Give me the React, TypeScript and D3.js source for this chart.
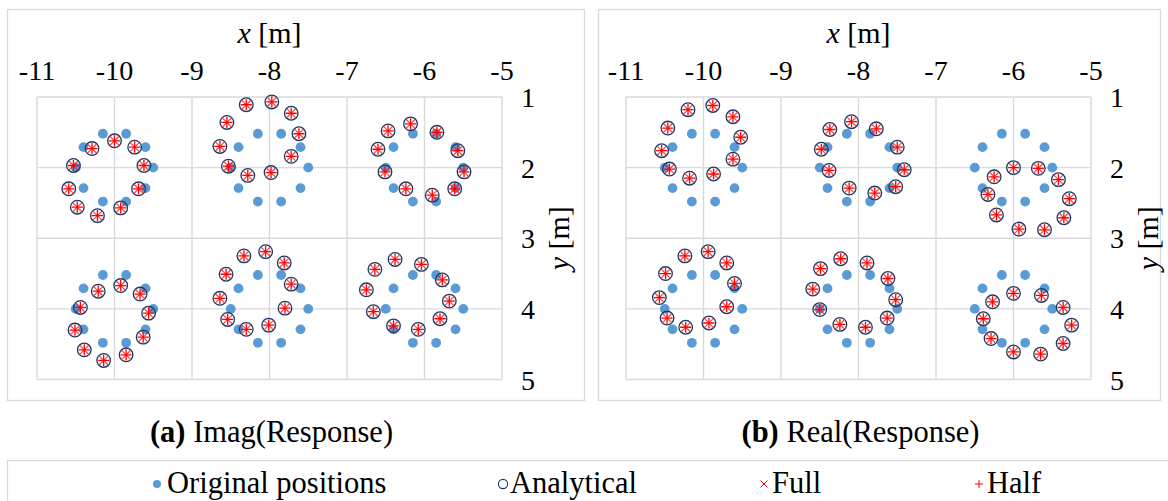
import React from 'react';
import * as d3 from 'd3';

type Pt = [number, number];

// Axis ticks (x along the top, y on the right, y growing downward)
const xTicks: number[] = [-11, -10, -9, -8, -7, -6, -5];
const yTicks: number[] = [1, 2, 3, 4, 5];

// Original receiver positions: six rings of ten points (same in both panels)
const originalPositions: Pt[] = [
  [-9.5, 2.0], [-9.6, 2.29], [-9.85, 2.48], [-10.15, 2.48], [-10.4, 2.29], [-10.5, 2.0], [-10.4, 1.71], [-10.15, 1.52], [-9.85, 1.52], [-9.6, 1.71],
  [-7.5, 2.0], [-7.6, 2.29], [-7.85, 2.48], [-8.15, 2.48], [-8.4, 2.29], [-8.5, 2.0], [-8.4, 1.71], [-8.15, 1.52], [-7.85, 1.52], [-7.6, 1.71],
  [-5.5, 2.0], [-5.6, 2.29], [-5.85, 2.48], [-6.15, 2.48], [-6.4, 2.29], [-6.5, 2.0], [-6.4, 1.71], [-6.15, 1.52], [-5.85, 1.52], [-5.6, 1.71],
  [-9.5, 4.0], [-9.6, 4.29], [-9.85, 4.48], [-10.15, 4.48], [-10.4, 4.29], [-10.5, 4.0], [-10.4, 3.71], [-10.15, 3.52], [-9.85, 3.52], [-9.6, 3.71],
  [-7.5, 4.0], [-7.6, 4.29], [-7.85, 4.48], [-8.15, 4.48], [-8.4, 4.29], [-8.5, 4.0], [-8.4, 3.71], [-8.15, 3.52], [-7.85, 3.52], [-7.6, 3.71],
  [-5.5, 4.0], [-5.6, 4.29], [-5.85, 4.48], [-6.15, 4.48], [-6.4, 4.29], [-6.5, 4.0], [-6.4, 3.71], [-6.15, 3.52], [-5.85, 3.52], [-5.6, 3.71],
];

// Displaced positions from the imaginary part of the response
const analyticalImag: Pt[] = [
  [-10.29, 1.73], [-10.0, 1.62], [-9.74, 1.71], [-9.62, 1.97], [-9.69, 2.3], [-9.92, 2.57], [-10.22, 2.68], [-10.48, 2.56], [-10.59, 2.3], [-10.53, 1.97],
  [-8.3, 1.11], [-7.97, 1.07], [-7.72, 1.23], [-7.62, 1.52], [-7.72, 1.84], [-7.98, 2.07], [-8.28, 2.11], [-8.53, 1.98], [-8.64, 1.7], [-8.55, 1.36],
  [-6.47, 1.48], [-6.18, 1.38], [-5.84, 1.5], [-5.57, 1.76], [-5.49, 2.06], [-5.61, 2.3], [-5.9, 2.39], [-6.24, 2.3], [-6.51, 2.06], [-6.6, 1.74],
  [-10.21, 3.75], [-9.92, 3.67], [-9.67, 3.79], [-9.56, 4.06], [-9.63, 4.4], [-9.85, 4.65], [-10.14, 4.73], [-10.39, 4.58], [-10.51, 4.3], [-10.44, 3.98],
  [-8.33, 3.25], [-8.05, 3.19], [-7.81, 3.35], [-7.72, 3.65], [-7.8, 3.99], [-8.01, 4.23], [-8.3, 4.29], [-8.54, 4.15], [-8.64, 3.85], [-8.56, 3.51],
  [-6.64, 3.44], [-6.38, 3.3], [-6.04, 3.37], [-5.77, 3.59], [-5.68, 3.89], [-5.8, 4.14], [-6.08, 4.29], [-6.4, 4.24], [-6.66, 4.04], [-6.75, 3.73],
];

// Displaced positions from the real part of the response
const analyticalReal: Pt[] = [
  [-10.2, 1.18], [-9.88, 1.12], [-9.62, 1.28], [-9.52, 1.57], [-9.62, 1.88], [-9.87, 2.09], [-10.18, 2.15], [-10.44, 2.02], [-10.54, 1.76], [-10.46, 1.44],
  [-8.37, 1.46], [-8.09, 1.35], [-7.77, 1.45], [-7.5, 1.71], [-7.41, 2.03], [-7.52, 2.27], [-7.79, 2.36], [-8.12, 2.29], [-8.38, 2.04], [-8.48, 1.74],
  [-6.0, 2.0], [-5.68, 2.01], [-5.42, 2.17], [-5.28, 2.44], [-5.35, 2.71], [-5.6, 2.88], [-5.93, 2.87], [-6.22, 2.67], [-6.33, 2.38], [-6.25, 2.13],
  [-10.24, 3.25], [-9.94, 3.19], [-9.7, 3.35], [-9.6, 3.64], [-9.7, 3.97], [-9.93, 4.2], [-10.23, 4.26], [-10.47, 4.13], [-10.57, 3.84], [-10.49, 3.5],
  [-8.49, 3.43], [-8.23, 3.29], [-7.89, 3.35], [-7.62, 3.57], [-7.52, 3.87], [-7.63, 4.13], [-7.91, 4.26], [-8.24, 4.22], [-8.5, 4.01], [-8.59, 3.72],
  [-6.0, 3.78], [-5.64, 3.81], [-5.36, 3.98], [-5.25, 4.23], [-5.36, 4.49], [-5.65, 4.64], [-6.0, 4.61], [-6.29, 4.42], [-6.39, 4.14], [-6.27, 3.9],
];

// Numerical solutions (full and half model) coincide with the analytical ones
const fullImag: Pt[] = analyticalImag;
const halfImag: Pt[] = analyticalImag;
const fullReal: Pt[] = analyticalReal;
const halfReal: Pt[] = analyticalReal;

const legendLabels = ['Original positions', 'Analytical', 'Full', 'Half'];

const FONT = "'Liberation Serif', 'Times New Roman', Tinos, 'DejaVu Serif', serif";
const BLUE = '#5B9BD5';
const NAVY = '#1F3864';
const RED = '#FF0000';
const GRID = '#D9D9D9';

const textStyle: React.CSSProperties = { fontFamily: FONT };

interface PanelProps {
  frameX: number;
  frameW: number;
  plotLeft: number;
  plotRight: number;
  tag: string;
  name: string;
  analytical: Pt[];
  full: Pt[];
  half: Pt[];
}

const PLOT_TOP = 97;
const PLOT_BOTTOM = 379.5;

function Panel(p: PanelProps) {
  const x = d3.scaleLinear().domain([-11, -5]).range([p.plotLeft, p.plotRight]);
  const y = d3.scaleLinear().domain([1, 5]).range([PLOT_TOP, PLOT_BOTTOM]);
  const cx = (p.plotLeft + p.plotRight) / 2;
  const xArm = 4.3;
  const pArm = 5.6;
  return (
    <g>
      <rect x={p.frameX} y={9.5} width={p.frameW} height={391} fill="#fff" stroke={GRID} strokeWidth={1.3} />
      {xTicks.map((t) => (
        <line key={'vx' + t} x1={x(t)} x2={x(t)} y1={PLOT_TOP} y2={PLOT_BOTTOM} stroke={GRID} strokeWidth={1.4} />
      ))}
      {yTicks.map((t) => (
        <line key={'hy' + t} x1={p.plotLeft} x2={p.plotRight} y1={y(t)} y2={y(t)} stroke={GRID} strokeWidth={1.4} />
      ))}
      {xTicks.map((t) => (
        <text key={'tx' + t} x={x(t)} y={80} textAnchor="middle" fontSize={28} style={textStyle} fill="#000">
          {t}
        </text>
      ))}
      <text x={x(-8)} y={43} textAnchor="middle" fontSize={30} style={textStyle} fill="#000">
        <tspan fontStyle="italic">x</tspan> [m]
      </text>
      {yTicks.map((t) => (
        <text key={'ty' + t} x={p.plotRight + 26} y={y(t) + 10} textAnchor="middle" fontSize={28} style={textStyle} fill="#000">
          {t}
        </text>
      ))}
      <text
        transform={`translate(${p.plotRight + 67},${(PLOT_TOP + PLOT_BOTTOM) / 2}) rotate(-90)`}
        textAnchor="middle"
        fontSize={30}
        style={textStyle}
        fill="#000"
      >
        <tspan fontStyle="italic">y</tspan> [m]
      </text>
      {originalPositions.map((d, i) => (
        <circle key={'o' + i} cx={x(d[0])} cy={y(d[1])} r={4.9} fill={BLUE} />
      ))}
      {p.analytical.map((d, i) => (
        <circle key={'a' + i} cx={x(d[0])} cy={y(d[1])} r={6.8} fill="none" stroke={NAVY} strokeWidth={1.3} />
      ))}
      {p.full.map((d, i) => {
        const px = x(d[0]);
        const py = y(d[1]);
        return (
          <path
            key={'f' + i}
            d={`M${px - xArm},${py - xArm}L${px + xArm},${py + xArm}M${px - xArm},${py + xArm}L${px + xArm},${py - xArm}`}
            stroke={RED}
            strokeOpacity={0.75}
            strokeWidth={1.2}
          />
        );
      })}
      {p.half.map((d, i) => {
        const px = x(d[0]);
        const py = y(d[1]);
        return (
          <path
            key={'h' + i}
            d={`M${px - pArm},${py}L${px + pArm},${py}M${px},${py - pArm}L${px},${py + pArm}`}
            stroke={RED}
            strokeWidth={1.3}
          />
        );
      })}
      <text x={cx + 2} y={442} textAnchor="middle" fontSize={30.5} style={textStyle} fill="#000">
        <tspan fontWeight="bold">{p.tag}</tspan> {p.name}
      </text>
    </g>
  );
}

export default function App() {
  const legendY = 484;
  return (
    <svg width={1168} height={501} style={{ position: 'absolute', left: 0, top: 0, background: '#fff' }}>
      <rect x={0} y={0} width={1168} height={501} fill="#fff" />
      <Panel
        frameX={7.5}
        frameW={577}
        plotLeft={37}
        plotRight={502}
        tag="(a)"
        name="Imag(Response)"
        analytical={analyticalImag}
        full={fullImag}
        half={halfImag}
      />
      <Panel
        frameX={598.5}
        frameW={562}
        plotLeft={626}
        plotRight={1091}
        tag="(b)"
        name="Real(Response)"
        analytical={analyticalReal}
        full={fullReal}
        half={halfReal}
      />
      <rect x={7.5} y={460.5} width={1170} height={60} fill="#fff" stroke={GRID} strokeWidth={1.3} />
      <circle cx={157} cy={legendY} r={4} fill={BLUE} />
      <circle cx={503} cy={legendY} r={4.6} fill="none" stroke={NAVY} strokeWidth={1.1} />
      <path d={`M${760.5},${legendY - 3.5}L${767.5},${legendY + 3.5}M${760.5},${legendY + 3.5}L${767.5},${legendY - 3.5}`} stroke={RED} strokeWidth={1} />
      <path d={`M${975},${legendY}L${983},${legendY}M${979},${legendY - 4}L${979},${legendY + 4}`} stroke={RED} strokeWidth={1} />
      {legendLabels.map((t, i) => (
        <text key={t} x={[167, 510, 772, 987][i]} y={legendY + 9} fontSize={30.5} style={textStyle} fill="#000">
          {t}
        </text>
      ))}
    </svg>
  );
}
